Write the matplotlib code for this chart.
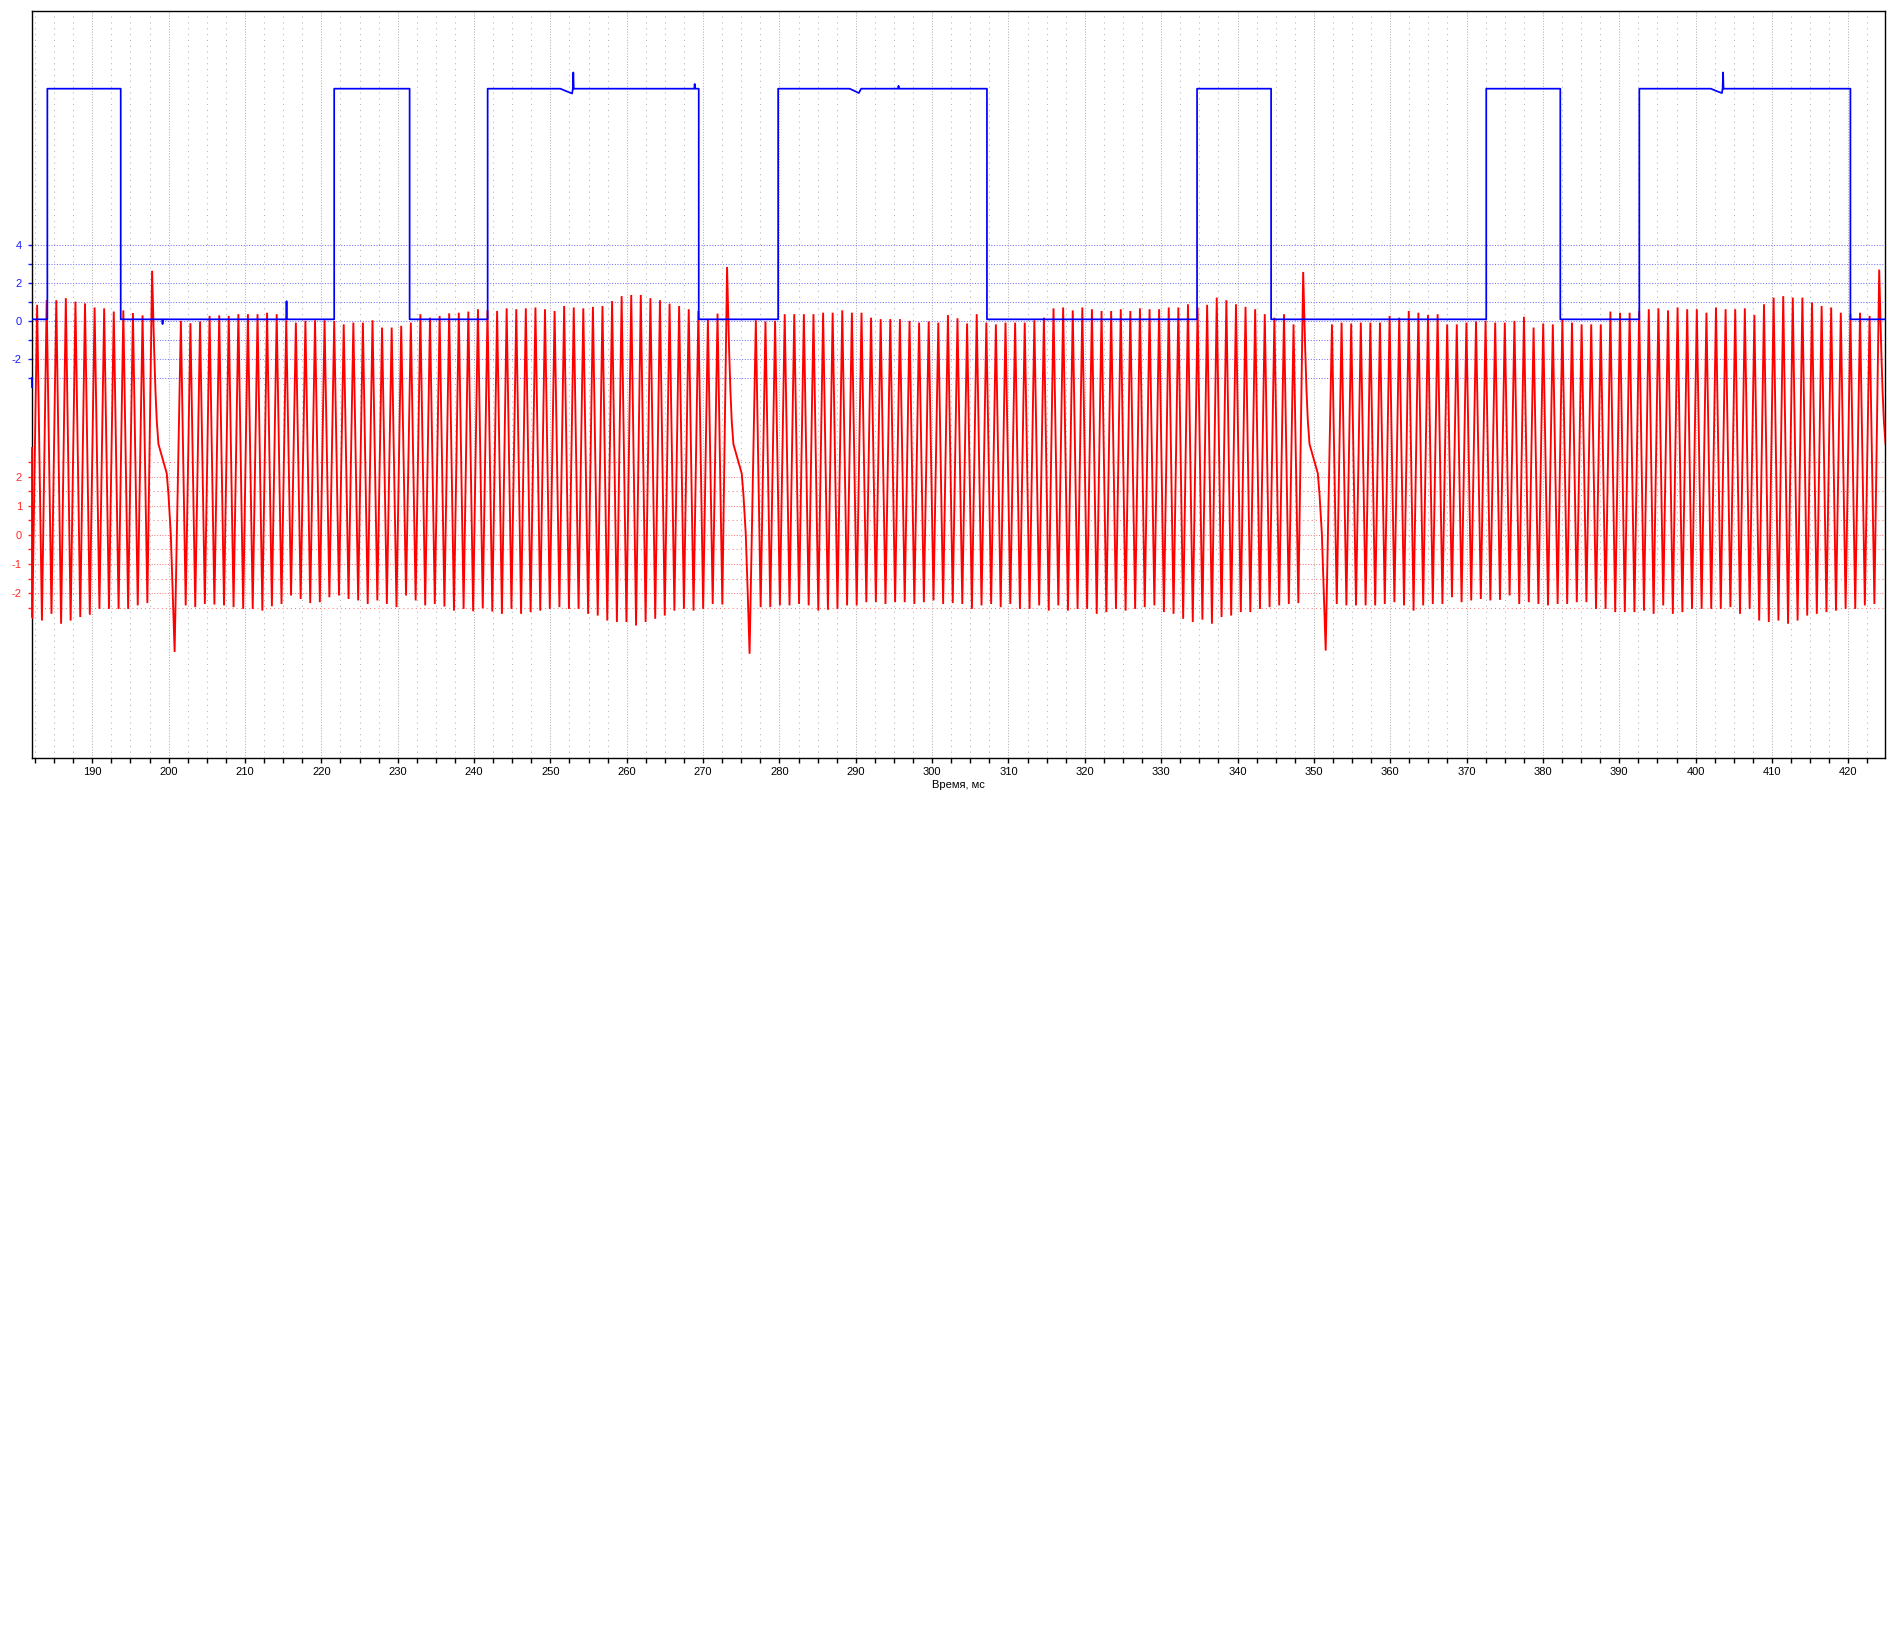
import matplotlib
matplotlib.use("Agg")
import matplotlib.pyplot as plt
from matplotlib.ticker import FixedLocator, FixedFormatter, MultipleLocator

plt.rcParams['font.family'] = ['Liberation Sans', 'DejaVu Sans']

# ---------------- data ----------------
x_limits = (182.06, 424.85)
blue_limits = (-22.93, 16.26)
red_limits = (-7.67, 17.98)

blue_major = [-2, 0, 2, 4]
blue_major_labels = ['-2', '0', '2', '4']
blue_minor = [-3, -1, 1, 3]
red_major = [-2, -1, 0, 1, 2]
red_major_labels = ['-2', '-1', '0', '1', '2']
red_minor = [-2.5, -1.5, -0.5, 0.5, 1.5, 2.5]
x_label = 'Время, мс'

# blue channel: square wave
blue_low = 0.1
blue_high = 12.2
blue_edges = [184.11, 193.72, 221.68, 231.56, 241.78, 269.43, 279.83,
              307.18, 334.70, 344.40, 372.58, 382.28, 392.63, 420.28]
blue_spike_t = [199.2, 215.44, 253.0, 268.9, 295.6, 403.6]
blue_spike_v = [-0.15, 1.05, 13.05, 12.45, 12.35, 13.05]
blue_sag_t = [251.3, 252.2, 252.85, 253.3, 289.2, 290.0, 290.4, 290.7, 291.5,
              402.0, 402.9, 403.45, 403.9]
blue_sag_v = [12.2, 12.05, 11.95, 12.2, 12.2, 12.05, 11.97, 12.2, 12.2,
              12.2, 12.05, 11.97, 12.2]

# red channel: crank sensor (60-2 wheel)
red_start_t = 182.14
red_start_v = -2.85
half_pitch = 0.63

seg0_peak_t = [182.77, 184.02, 185.28, 186.53, 187.79, 189.04, 190.30, 191.55,
               192.81, 194.06, 195.32, 196.58]
seg0_peak_v = [7.90, 8.06, 8.06, 8.13, 8.01, 7.95, 7.81, 7.78, 7.67, 7.71, 7.62, 7.54]
seg0_trough_v = [-2.94, -2.71, -3.05, -2.94, -2.82, -2.74, -2.54, -2.54, -2.54,
                 -2.54, -2.42, -2.34]

gap_peak_t = [197.83, 273.14, 348.60, 424.05]
gap_peak_v = [9.07, 9.20, 9.03, 9.11]
gap_min_v = [-4.02, -4.08, -3.97, -4.00]
gap_min_dt = 2.95
gap_profile_dt = [0.26, 0.44, 0.61, 0.83, 1.14, 1.49, 1.92, 2.14, 2.45, 2.71]
gap_profile_v = [6.43, 4.95, 3.92, 3.12, 2.83, 2.49, 2.11, 1.40, 0.03, -2.02]

rev1_peak_t = [201.60, 202.85, 204.11, 205.36, 206.62, 207.87, 209.13, 210.38, 211.64,
               212.89, 214.15, 215.40, 216.66, 217.91, 219.17, 220.42, 221.68, 222.93,
               224.19, 225.44, 226.70, 227.95, 229.21, 230.46, 231.72, 232.97, 234.23,
               235.49, 236.74, 238.00, 239.25, 240.51, 241.76, 243.02, 244.27, 245.53,
               246.78, 248.04, 249.29, 250.55, 251.80, 253.06, 254.31, 255.57, 256.82,
               258.08, 259.33, 260.59, 261.84, 263.10, 264.35, 265.61, 266.86, 268.12,
               269.38, 270.63, 271.89]
rev1_peak_v = [7.35, 7.27, 7.33, 7.52, 7.54, 7.52, 7.58, 7.58, 7.58, 7.63,
               7.58, 7.37, 7.29, 7.35, 7.37, 7.37, 7.35, 7.23, 7.29, 7.29,
               7.37, 7.12, 7.12, 7.18, 7.29, 7.58, 7.46, 7.52, 7.61, 7.63,
               7.67, 7.75, 7.71,
               7.69, 7.78, 7.75, 7.78, 7.81, 7.75, 7.69, 7.86, 7.81, 7.78,
               7.83, 7.86, 8.03, 8.20, 8.24, 8.24, 8.13, 8.06, 7.94, 7.86,
               7.75, 7.69, 7.40, 7.60]
rev1_trough_v = [-2.42, -2.48, -2.37, -2.39, -2.42, -2.48, -2.54, -2.54, -2.60, -2.45,
                 -2.37, -2.08, -2.20, -2.34, -2.31, -2.14, -2.08, -2.20, -2.25, -2.37,
                 -2.25, -2.37, -2.48, -2.08, -2.25, -2.42, -2.37, -2.46, -2.60, -2.54,
                 -2.62, -2.52, -2.63,
                 -2.71, -2.54, -2.71, -2.65, -2.60, -2.54, -2.48, -2.54, -2.54, -2.71,
                 -2.77, -2.94, -2.99, -2.99, -3.11, -2.99, -2.88, -2.77, -2.60, -2.54,
                 -2.60, -2.54, -2.37, -2.39]

rev2_peak_t = [276.91, 278.17, 279.43, 280.69, 281.94, 283.20, 284.46, 285.72, 286.97,
               288.23, 289.49, 290.75, 292.00, 293.26, 294.52, 295.78, 297.04, 298.29,
               299.55, 300.81, 302.07, 303.32, 304.58, 305.84, 307.10, 308.35, 309.61,
               310.87, 312.13, 313.39, 314.64, 315.90, 317.16, 318.42, 319.67, 320.93,
               322.19, 323.45, 324.71, 325.96, 327.22, 328.48, 329.73, 330.99, 332.25,
               333.51, 334.77, 336.02, 337.28, 338.54, 339.80, 341.05, 342.31, 343.57,
               344.83, 346.09, 347.34]
rev2_peak_v = [7.37, 7.33, 7.35, 7.58, 7.58, 7.58, 7.58, 7.63, 7.63, 7.71,
               7.63, 7.63, 7.46, 7.41, 7.41, 7.41, 7.35, 7.29, 7.33, 7.29,
               7.55, 7.44,
               7.26, 7.58, 7.29, 7.23, 7.29, 7.29, 7.29, 7.37, 7.46, 7.78,
               7.81, 7.71, 7.81, 7.75, 7.69, 7.69, 7.75, 7.69, 7.78, 7.75,
               7.75, 7.81, 7.81, 7.92, 7.81, 7.90, 8.15, 8.06, 7.92, 7.83,
               7.75, 7.58, 7.46, 7.58, 7.23]
rev2_trough_v = [-2.48, -2.48, -2.42, -2.42, -2.37, -2.42, -2.60, -2.57, -2.54, -2.42,
                 -2.42, -2.31, -2.31, -2.37, -2.31, -2.31, -2.37, -2.31, -2.25, -2.37,
                 -2.34, -2.37,
                 -2.54, -2.42, -2.37, -2.48, -2.37, -2.54, -2.54, -2.42, -2.60, -2.42,
                 -2.60, -2.54, -2.54, -2.71, -2.65, -2.54, -2.60, -2.54, -2.48, -2.42,
                 -2.65, -2.71, -2.88, -2.99, -2.91, -3.05, -2.82, -2.77, -2.65, -2.65,
                 -2.54, -2.48, -2.42, -2.37, -2.34]

rev3_peak_t = [352.37, 353.63, 354.89, 356.15, 357.40, 358.66, 359.92, 361.18, 362.43,
               363.69, 364.95, 366.21, 367.46, 368.72, 369.98, 371.24, 372.49, 373.75,
               375.01, 376.27, 377.52, 378.78, 380.04, 381.30, 382.55, 383.81, 385.07,
               386.33, 387.58, 388.84, 390.10, 391.36, 392.61, 393.87, 395.13, 396.39,
               397.64, 398.90, 400.16, 401.42, 402.67, 403.93, 405.19, 406.45, 407.70,
               408.96, 410.22, 411.48, 412.73, 413.99, 415.25, 416.51, 417.76, 419.02,
               420.28, 421.54, 422.79]
rev3_peak_v = [7.23, 7.29, 7.26, 7.29, 7.29, 7.29, 7.52, 7.46, 7.69, 7.63,
               7.55, 7.58, 7.23, 7.23, 7.29, 7.33, 7.35, 7.29, 7.29, 7.35,
               7.49, 7.12, 7.26, 7.23, 7.41, 7.29, 7.23, 7.23, 7.23, 7.67,
               7.63, 7.63, 7.69, 7.75, 7.78, 7.71, 7.81, 7.75, 7.75, 7.63,
               7.81, 7.75, 7.75, 7.78, 7.55, 7.92, 8.15, 8.20, 8.15, 8.15,
               7.98, 7.86, 7.81, 7.63, 7.58, 7.63, 7.52]
rev3_trough_v = [-2.37, -2.42, -2.42, -2.42, -2.42, -2.37, -2.31, -2.42, -2.60, -2.42,
                 -2.37, -2.37, -2.14, -2.31, -2.25, -2.20, -2.25, -2.23, -2.08, -2.37,
                 -2.31, -2.37, -2.42, -2.37, -2.37, -2.31, -2.31, -2.54, -2.54, -2.65,
                 -2.65, -2.65, -2.60, -2.71, -2.42, -2.71, -2.65, -2.54, -2.54, -2.54,
                 -2.54, -2.48, -2.71, -2.54, -2.94, -2.99, -2.94, -3.05, -2.94, -2.77,
                 -2.71, -2.65, -2.60, -2.54, -2.54, -2.42, -2.37]

# ---------------- styles ----------------
BLUE = '#0000ff'
RED = '#ff0000'
BLUE_TXT = '#1a1aff'
RED_TXT = '#ff2a2a'
BLUE_GRID = '#7676ff'
RED_GRID = '#ff7a7a'
GRAY_GRID = '#b2b2b2'


def build_red():
    t = [red_start_t]
    v = [red_start_v]
    for pt, pv, tv in zip(seg0_peak_t, seg0_peak_v, seg0_trough_v):
        t += [pt, pt + half_pitch]
        v += [pv, tv]
    revs = [(rev1_peak_t, rev1_peak_v, rev1_trough_v),
            (rev2_peak_t, rev2_peak_v, rev2_trough_v),
            (rev3_peak_t, rev3_peak_v, rev3_trough_v)]
    for g in range(len(gap_peak_t)):
        t.append(gap_peak_t[g]); v.append(gap_peak_v[g])
        for dt, gv in zip(gap_profile_dt, gap_profile_v):
            t.append(gap_peak_t[g] + dt); v.append(gv)
        t.append(gap_peak_t[g] + gap_min_dt); v.append(gap_min_v[g])
        if g < len(revs):
            for pt, pv, tv in zip(*revs[g]):
                t += [pt, pt + half_pitch]
                v += [pv, tv]
    return t, v


def build_blue():
    events = []
    for i, e in enumerate(blue_edges):
        events.append((e, 'edge', i))
    for st, sv in zip(blue_spike_t, blue_spike_v):
        events.append((st, 'spike', sv))
    for st, sv in zip(blue_sag_t, blue_sag_v):
        events.append((st, 'sag', sv))
    events.sort(key=lambda e: e[0])
    level = blue_low
    t = [x_limits[0] - 1]
    v = [level]
    for et, kind, val in events:
        if kind == 'edge':
            new = blue_high if level == blue_low else blue_low
            t += [et, et]; v += [level, new]
            level = new
        elif kind == 'spike':
            t += [et - 0.06, et, et + 0.06]; v += [level, val, level]
        else:
            t.append(et); v.append(val)
    t.append(x_limits[1] + 1); v.append(level)
    return t, v


fig = plt.figure(figsize=(18.96, 16.30), dpi=100)
fig.patch.set_facecolor('white')
rect = [0.01672, 0.53479, 0.97764, 0.45828]
axb = fig.add_axes(rect)
axr = fig.add_axes(rect, sharex=axb)
axr.patch.set_visible(False)
for s in axr.spines.values():
    s.set_visible(False)
for s in axb.spines.values():
    s.set_color('black')
    s.set_linewidth(1.0)

# x axis
axb.xaxis.set_major_locator(MultipleLocator(10))
axb.xaxis.set_minor_locator(MultipleLocator(2.5))
axb.tick_params(axis='x', which='both', direction='out', length=3.5, width=1.0,
                colors='black', labelsize=8, pad=3, top=False)
axb.set_xlabel(x_label, fontsize=8, labelpad=2)
axr.tick_params(axis='x', which='both', bottom=False, labelbottom=False, top=False)
axb.grid(axis='x', which='major', color=GRAY_GRID, linestyle=(0, (1, 1.6)), linewidth=0.75)
axb.grid(axis='x', which='minor', color=GRAY_GRID, linestyle=(0, (1, 4.6)), linewidth=0.75)

# blue y axis
axb.yaxis.set_major_locator(FixedLocator(blue_major))
axb.yaxis.set_major_formatter(FixedFormatter(blue_major_labels))
axb.yaxis.set_minor_locator(FixedLocator(blue_minor))
axb.tick_params(axis='y', which='both', direction='out', length=3, width=1.0,
                colors=BLUE_TXT, labelsize=8, pad=4, right=False)
axb.grid(axis='y', which='both', color=BLUE_GRID, linestyle=(0, (1, 1.6)), linewidth=0.75)

# red y axis
axr.yaxis.set_ticks_position('left')
axr.yaxis.set_major_locator(FixedLocator(red_major))
axr.yaxis.set_major_formatter(FixedFormatter(red_major_labels))
axr.yaxis.set_minor_locator(FixedLocator(red_minor))
axr.tick_params(axis='y', which='both', direction='out', length=3, width=1.0,
                colors=RED_TXT, labelsize=8, pad=4, left=True, right=False)
axr.grid(axis='y', which='major', color=RED_GRID, linestyle=(0, (1, 1.6)), linewidth=0.75)
axr.grid(axis='y', which='minor', color=RED_GRID, linestyle=(0, (1, 3.0)), linewidth=0.75)

# signals
rt, rv = build_red()
axr.plot(rt, rv, color=RED, linewidth=1.35, zorder=2, solid_joinstyle='miter')
bt, bv = build_blue()
axr.plot(bt, bv, color=BLUE, linewidth=1.25, zorder=3, transform=axb.transData)

# coloured channel segments on the left spine
axr.plot([0, 0], [-2.81, 2.97], transform=axr.get_yaxis_transform(), color=RED,
         linewidth=1.3, clip_on=False, zorder=6)
axr.plot([0, 0], [-3.44, -3.0], transform=axb.get_yaxis_transform(), color=BLUE,
         linewidth=1.3, clip_on=False, zorder=6)

axb.set_xlim(*x_limits)
axb.set_ylim(*blue_limits)
axr.set_ylim(*red_limits)

fig.savefig('out.png', dpi=100, facecolor='white')
